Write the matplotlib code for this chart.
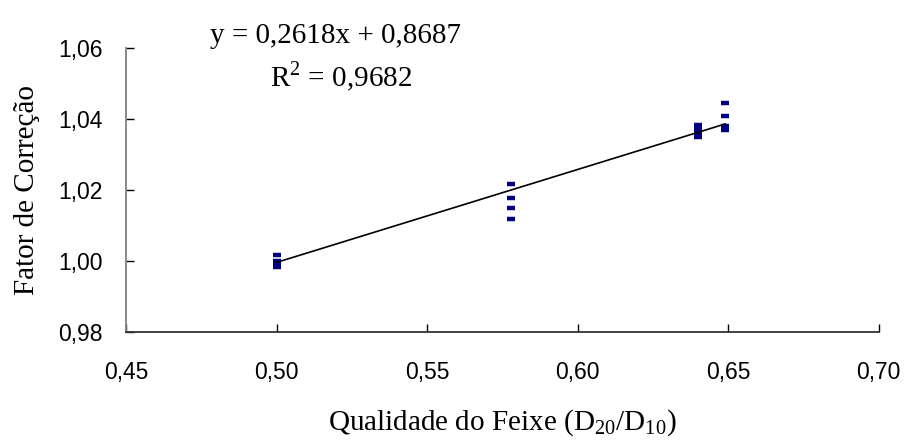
import numpy as np
import matplotlib.pyplot as plt

# Medidas: qualidade do feixe (D20/D10) e fator de correção
qualidade = [0.500, 0.500, 0.500, 0.500,
             0.578, 0.578, 0.578, 0.578,
             0.640, 0.640, 0.640, 0.640,
             0.649, 0.649, 0.649, 0.649]
fator = [1.0017, 1.0000, 0.9990, 0.9983,
         1.0217, 1.0177, 1.0149, 1.0118,
         1.0383, 1.0372, 1.0360, 1.0349,
         1.0445, 1.0408, 1.0380, 1.0369]

# Ajuste linear
coef_a = 0.2618
coef_b = 0.8687
r2 = 0.9682

x_ticks = [0.45, 0.50, 0.55, 0.60, 0.65, 0.70]
y_ticks = [0.98, 1.00, 1.02, 1.04, 1.06]

plt.rcParams['font.family'] = ['Liberation Sans', 'DejaVu Sans']

def virgula(v):
    return f'{v:.2f}'.replace('.', ',')

fig = plt.figure(figsize=(9.07, 4.43), dpi=100)
ax = fig.add_axes([0.1389, 0.2506, 0.8299, 0.641])

ax.plot(qualidade, fator, linestyle='none', marker='_', markersize=5.5,
        markeredgewidth=3.2, color='#000080', zorder=2)

xs = np.array([min(qualidade), max(qualidade)])
ax.plot(xs, coef_a * xs + coef_b, color='black', lw=1.2, zorder=3)

ax.set_xlim(0.45, 0.70)
ax.set_ylim(0.98, 1.06)
ax.set_xticks(x_ticks)
ax.set_yticks(y_ticks)
ax.set_xticklabels([virgula(v) for v in x_ticks])
ax.set_yticklabels([virgula(v) for v in y_ticks])
ax.tick_params(axis='both', direction='in', length=5.5, width=1, labelsize=16.5)
ax.tick_params(axis='x', pad=21)
ax.tick_params(axis='y', pad=17)

for s in ['top', 'right']:
    ax.spines[s].set_visible(False)
ax.spines['bottom'].set_color('#333333')
ax.spines['bottom'].set_linewidth(1.3)
ax.spines['left'].set_color('#808080')
ax.spines['left'].set_linewidth(1.3)

serif = ['Liberation Serif', 'DejaVu Serif']
ax.set_xlabel(r'Qualidade do Feixe (D$_\mathregular{20}$/D$_\mathregular{10}$)',
              family=serif, fontsize=21, labelpad=17)
ax.set_ylabel('Fator de Correção', family=serif, fontsize=21, labelpad=13)

fig.text(336 / 907, 1 - 43 / 443, f'y = {coef_a:.4f}x + {coef_b:.4f}'.replace('.', ','),
         family=serif, fontsize=21, ha='center', va='baseline')
fig.text(341 / 907, 1 - 87 / 443, r'R$^\mathregular{2}$ = ' + f'{r2:.4f}'.replace('.', ','),
         family=serif, fontsize=21, ha='center', va='baseline')

fig.savefig('out.png', dpi=100)
